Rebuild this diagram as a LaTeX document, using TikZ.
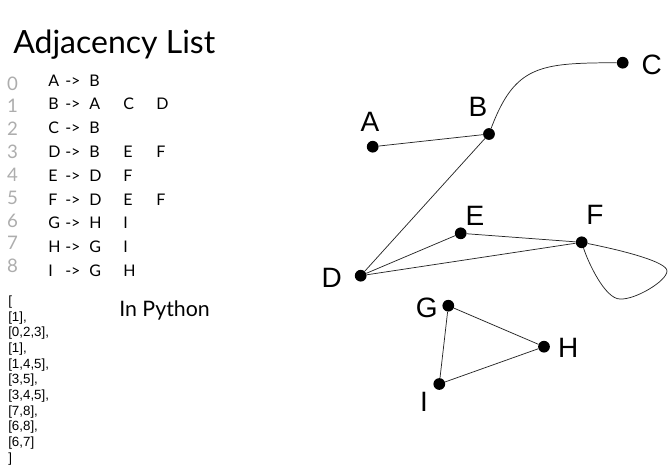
\documentclass[tikz,border=0pt]{standalone}
\usepackage{fontspec}
\setmainfont{Lato}
\newfontfamily\graphfont{Liberation Sans}
\usepackage{tikz}

\tikzset{
	vertex/.style={shape=circle,fill=black,inner sep=0pt,minimum size=8.8pt},
	vname/.style={font=\graphfont\fontsize{21}{21}\selectfont,inner sep=0pt},
	idx/.style={font=\fontsize{14}{14}\selectfont,text=black!32,anchor=base,inner sep=0pt},
	entry/.style={font=\fontsize{12}{12}\selectfont,anchor=base west,inner sep=0pt},
	pyline/.style={font=\graphfont\fontsize{10}{10}\selectfont,anchor=base west,inner sep=0pt},
	link/.style={draw=black!85,line width=0.55pt},
}

\begin{document}
\begin{tikzpicture}[x=0.75pt,y=-0.75pt]
	\useasboundingbox (0,0) rectangle (668,465);

	\node[anchor=base west,inner sep=0pt,font=\fontsize{24}{24}\selectfont] (title) at (13,53.3) {Adjacency List};
	\node[anchor=base west,inner sep=0pt,font=\fontsize{16}{16}\selectfont] (python) at (119,316) {In Python};

	% adjacency list with indices
	\foreach \s/\a/\b/\c [count=\i from 0] in {A/B//, B/A/C/D, C/B//, D/B/E/F, E/D/F/, F/D/E/F, G/H/I/, H/G/I/, I/G/H/} {
		\node[idx] (idx\i) at (12.5,{90+22.85*\i}) {\i};
		\node[entry] (src\i) at (48,{86+23.8*\i}) {\s};
		\node[entry] (arr\i) at (65,{86+23.8*\i}) {->};
		\node[entry] (nbA\i) at (89,{86+23.8*\i}) {\a};
		\node[entry] (nbB\i) at (123,{86+23.8*\i}) {\b};
		\node[entry] (nbC\i) at (156,{86+23.8*\i}) {\c};
	}

	% the same list in python
	\foreach \l [count=\k from 0] in {{[},{[1],},{[0,2,3],},{[1],},{[1,4,5],},{[3,5],},{[3,4,5],},{[7,8],},{[6,8],},{[6,7]},{]}} {
		\node[pyline] (py\k) at (8,{305.3+15.7*\k}) {\l};
	}

	% graph
	\node[vertex] (A) at (372.7,146.7) {};
	\node[vertex] (B) at (489,134) {};
	\node[vertex] (C) at (622.7,62.7) {};
	\node[vertex] (D) at (360.7,275.7) {};
	\node[vertex] (E) at (460.7,233.3) {};
	\node[vertex] (F) at (581.7,242.3) {};
	\node[vertex] (G) at (448.3,305.7) {};
	\node[vertex] (H) at (544,346.7) {};
	\node[vertex] (I) at (439.3,384) {};

	\node[vname] (lA) at (370,121.7) {A};
	\node[vname] (lB) at (478,107) {B};
	\node[vname] (lC) at (651.7,65) {C};
	\node[vname] (lD) at (331.7,278) {D};
	\node[vname] (lE) at (475,216) {E};
	\node[vname] (lF) at (595,215) {F};
	\node[vname] (lG) at (426.7,308.3) {G};
	\node[vname] (lH) at (568.3,348.3) {H};
	\node[vname] (lI) at (424,401.7) {I};

	\coordinate (loopR) at (667,271);
	\coordinate (loopB) at (620,299);

	\path [-] (A) edge[link] (B);
	\path [-] (B) edge[link] (D);
	\path [-] (D) edge[link] (E);
	\path [-] (D) edge[link] (F);
	\path [-] (E) edge[link] (F);
	\path [-] (G) edge[link] (H);
	\path [-] (H) edge[link] (I);
	\path [-] (I) edge[link] (G);
	\draw[link] (B) .. controls (515,65) and (540,63) .. (C);
	\draw[link] (F) .. controls (625,251) and (667,262) .. (loopR)
		.. controls (667,281) and (635,300) .. (loopB)
		.. controls (605,299) and (588,262) .. (F);
\end{tikzpicture}
\end{document}
